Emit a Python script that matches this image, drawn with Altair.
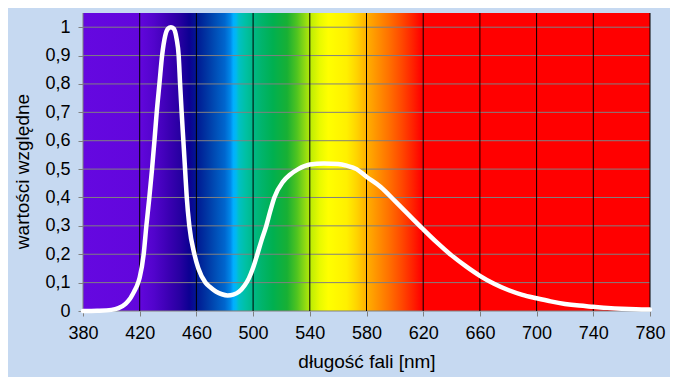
import altair as alt
import pandas as pd

# ---- data ----
wavelength = [380, 390, 400, 405, 410, 413, 416, 418, 420, 422.8, 424.7, 426.8, 428.7,
              430.4, 432, 433.9, 435.8, 438, 440, 442, 444, 446, 447.5, 448.5, 449.6,
              450.8, 452, 453.2, 455, 458.6, 461.4, 466.4, 470, 474, 478, 482, 486,
              490, 494, 497, 500, 503, 506, 509.3, 512, 515, 521, 526, 531.8, 540,
              550, 560, 566, 573, 580, 590, 600, 610, 620, 630, 640, 650, 660,
              670, 680, 690, 700, 710, 720, 730, 740, 750, 760, 770, 780]
relative = [0.0, 0.001, 0.004, 0.01, 0.025, 0.042, 0.068, 0.088, 0.118, 0.2, 0.3, 0.4, 0.5,
            0.6, 0.7, 0.8, 0.9, 0.97, 0.995, 1.0, 0.995, 0.96, 0.9, 0.8, 0.7,
            0.6, 0.5, 0.4, 0.3, 0.2, 0.15, 0.1, 0.083, 0.068, 0.059, 0.055, 0.058,
            0.068, 0.09, 0.115, 0.152, 0.2, 0.25, 0.3, 0.35, 0.4, 0.455, 0.48, 0.5, 0.516,
            0.52, 0.518, 0.512, 0.5, 0.473, 0.437, 0.388, 0.338, 0.288, 0.24, 0.196, 0.158, 0.124,
            0.096, 0.074, 0.057, 0.045, 0.034, 0.025, 0.019, 0.015, 0.011, 0.008, 0.006, 0.005]

x_ticks = [380, 420, 460, 500, 540, 580, 620, 660, 700, 740, 780]
y_ticks = [0, 0.1, 0.2, 0.3, 0.4, 0.5, 0.6, 0.7, 0.8, 0.9, 1.0]
x_domain = [380, 780]
y_domain = [0, 1.05]

# ---- style: spectrum colour stops (nm, colour) ----
spectrum_stops = [
    (380, "#6508E0"), (420, "#6206DC"), (430, "#5204CC"), (440, "#3C00B4"),
    (448, "#2800A2"), (455, "#0C0092"), (461, "#001C94"), (467, "#0034A2"),
    (474, "#0050B8"), (480, "#0066CE"), (484, "#0088E8"), (486, "#00AEFF"),
    (488, "#00B8F0"), (490, "#00C0C4"), (495, "#00C0A2"), (500, "#00B888"),
    (506, "#00B46C"), (514, "#00B050"), (524, "#18B034"), (531, "#50C420"),
    (536, "#88D814"), (541, "#C0EE04"), (547, "#E8FA00"), (553, "#FFFF00"),
    (566, "#FFF000"), (573, "#FFD400"), (580, "#FFB000"), (588, "#FF9000"),
    (596, "#FF7000"), (605, "#FF4800"), (613, "#FF2000"), (619, "#FF0000"),
    (780, "#FF0000"),
]

FONT = "Liberation Sans"
BG = "#C6D9F1"

span = x_domain[1] - x_domain[0]
gradient = alt.LinearGradient(
    gradient="linear",
    stops=[alt.GradientStop(offset=(nm - x_domain[0]) / span, color=c) for nm, c in spectrum_stops],
    x1=0, x2=1, y1=0, y2=0,
)

xs = alt.Scale(domain=x_domain, nice=False, zero=False)
ys = alt.Scale(domain=y_domain, nice=False)

curve_df = pd.DataFrame({"nm": wavelength, "v": relative})
band_df = pd.DataFrame({"x0": [x_domain[0]], "x1": [x_domain[1]], "y0": [y_domain[0]], "y1": [y_domain[1]]})
hgrid_df = pd.DataFrame({"y": y_ticks})
vgrid_df = pd.DataFrame({"x": [t for t in x_ticks if t != x_domain[0]]})
left_df = pd.DataFrame({"x": [x_domain[0]]})

x_axis = alt.Axis(values=x_ticks, title="długość fali [nm]", grid=False, domain=False,
                  tickColor="#808080", tickSize=5, labelPadding=8, titlePadding=10,
                  labelOverlap=False, labelFlush=False)
y_axis = alt.Axis(values=y_ticks, title="wartości względne", grid=False, domain=False,
                  tickColor="#808080", tickSize=5, labelPadding=8, titlePadding=12,
                  labelOverlap=False, labelFlush=False, titleY=158,
                  labelExpr="replace(format(datum.value, '.1~f'), '.', ',')")

band = alt.Chart(band_df).mark_rect(color=gradient).encode(
    x=alt.X("x0:Q", scale=xs, axis=x_axis),
    x2="x1:Q",
    y=alt.Y("y0:Q", scale=ys, axis=y_axis),
    y2="y1:Q",
)

hgrid = alt.Chart(hgrid_df).mark_rule(color="#808080", strokeWidth=1).encode(
    y=alt.Y("y:Q", scale=ys, axis=y_axis)
)
vgrid = alt.Chart(vgrid_df).mark_rule(color="#000000", strokeWidth=1).encode(
    x=alt.X("x:Q", scale=xs, axis=x_axis)
)
left = alt.Chart(left_df).mark_rule(color="#808080", strokeWidth=1).encode(
    x=alt.X("x:Q", scale=xs, axis=x_axis)
)

curve = alt.Chart(curve_df).mark_line(color="white", strokeWidth=4.5, interpolate="monotone",
                                      strokeCap="round").encode(
    x=alt.X("nm:Q", scale=xs, axis=x_axis),
    y=alt.Y("v:Q", scale=ys, axis=y_axis),
)

chart = alt.layer(band, hgrid, vgrid, left, curve).properties(
    width=567,
    height=298,
    padding={"left": 75, "top": 5, "right": 20, "bottom": 66},
    autosize=alt.AutoSizeParams(type="none"),
    background=BG,
).configure_view(strokeWidth=0).configure_axis(
    labelFont=FONT, titleFont=FONT, labelFontSize=18, titleFontSize=19,
    labelColor="#000000", titleColor="#000000", titleFontWeight="normal",
    labelOverlap=False, labelFlush=False,
)

chart.save("out.html", embed_options={"renderer": "svg", "actions": False})
